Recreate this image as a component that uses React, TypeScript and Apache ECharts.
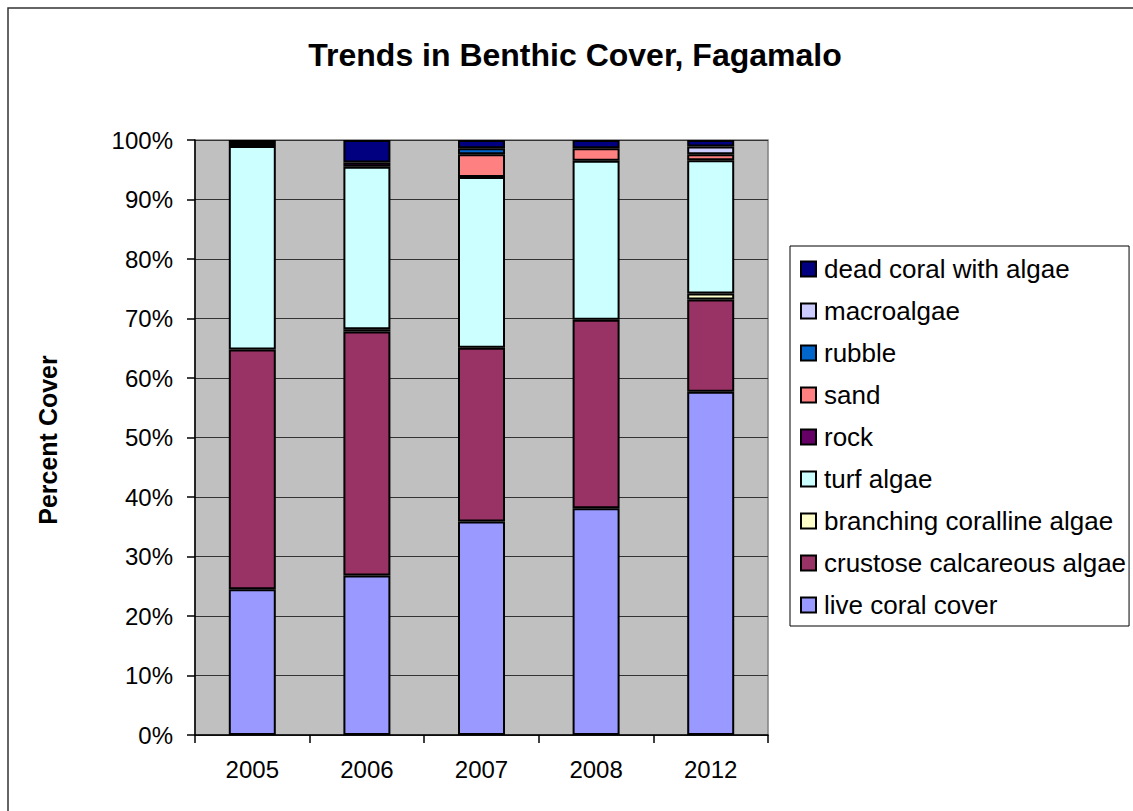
import React, { useEffect, useRef } from "react";
import * as echarts from "echarts";

const years = ["2005", "2006", "2007", "2008", "2012"];
const liveCoral = [24.5, 26.8, 35.9, 38.1, 57.7];
const crustose = [40.3, 41.0, 29.2, 31.7, 15.5];
const branching = [0, 0.4, 0, 0, 1.0];
const turf = [34.2, 27.3, 28.7, 26.7, 22.4];
const rock = [0.5, 0.7, 0, 0, 0];
const sand = [0, 0, 3.8, 2.1, 1.0];
const rubble = [0, 0, 1.0, 0, 0];
const macroalgae = [0, 0, 0, 0, 1.3];
const deadCoral = [0.5, 3.8, 1.4, 1.4, 1.1];

const seriesDefs = [
  { name: "live coral cover", data: liveCoral, color: "#9999FF" },
  { name: "crustose calcareous algae", data: crustose, color: "#993366" },
  { name: "branching coralline algae", data: branching, color: "#FFFFCC" },
  { name: "turf algae", data: turf, color: "#CCFFFF" },
  { name: "rock", data: rock, color: "#660066" },
  { name: "sand", data: sand, color: "#FF8080" },
  { name: "rubble", data: rubble, color: "#0066CC" },
  { name: "macroalgae", data: macroalgae, color: "#CCCCFF" },
  { name: "dead coral with algae", data: deadCoral, color: "#000080" },
];

const FONT = "'Liberation Sans', Arial, sans-serif";

export default function App() {
  const ref = useRef<HTMLDivElement>(null);
  useEffect(() => {
    const chart = echarts.init(ref.current!, null, { renderer: "svg" });
    chart.setOption({
      animation: false,
      backgroundColor: "#ffffff",
      textStyle: { fontFamily: FONT },
      grid: {
        left: 195,
        top: 140,
        right: 365,
        bottom: 76,
        show: true,
        backgroundColor: "#C0C0C0",
        borderColor: "#808080",
        borderWidth: 1.5,
      },
      xAxis: {
        type: "category",
        data: years,
        axisLine: { lineStyle: { color: "#000", width: 1.5 } },
        axisTick: { show: true, length: 8, interval: 0, lineStyle: { color: "#000", width: 1.5 } },
        axisLabel: { fontSize: 24, color: "#000", margin: 22, fontFamily: FONT },
      },
      yAxis: {
        type: "value",
        min: 0,
        max: 100,
        interval: 10,
        axisLine: { show: true, lineStyle: { color: "#000", width: 1.5 } },
        axisTick: { show: true, length: 8, lineStyle: { color: "#000", width: 1.5 } },
        axisLabel: { fontSize: 24, color: "#000", margin: 22, formatter: "{value}%", fontFamily: FONT },
        splitLine: { show: true, lineStyle: { color: "#333", width: 1.2 } },
      },
      legend: {
        orient: "vertical",
        left: 790,
        top: 246,
        padding: [10, 3, 8, 10],
        itemGap: 16,
        itemWidth: 15,
        itemHeight: 15,
        selectedMode: false,
        backgroundColor: "#fff",
        borderColor: "#000",
        borderWidth: 1,
        icon: "rect",
        textStyle: { fontSize: 26, color: "#000", lineHeight: 26, fontFamily: FONT, padding: [0, 0, 0, 3] },
        data: seriesDefs.map((s) => s.name).reverse(),
      },
      graphic: [
        {
          type: "rect",
          shape: { x: 8, y: 8, width: 1200, height: 900 },
          style: { fill: "none", stroke: "#333", lineWidth: 1.5 },
          silent: true,
          z: 100,
        },
        {
          type: "text",
          x: 575,
          y: 55,
          style: {
            text: "Trends in Benthic Cover, Fagamalo",
            fontSize: 32,
            fontWeight: "bold",
            fontFamily: FONT,
            fill: "#000",
            align: "center",
            verticalAlign: "middle",
          },
        },
        {
          type: "text",
          x: 48,
          y: 440,
          rotation: Math.PI / 2,
          style: {
            text: "Percent Cover",
            fontSize: 25,
            fontWeight: "bold",
            fontFamily: FONT,
            fill: "#000",
            align: "center",
            verticalAlign: "middle",
          },
        },
      ],
      series: seriesDefs.map((s) => ({
        name: s.name,
        type: "bar",
        stack: "total",
        barWidth: 47,
        data: s.data.map((v) => (v === 0 ? "-" : v)),
        itemStyle: { color: s.color, borderColor: "#000", borderWidth: 2 },
      })),
    });
    return () => chart.dispose();
  }, []);
  return (
    <div
      ref={ref}
      style={{ position: "absolute", left: 0, top: 0, width: 1133, height: 811 }}
    />
  );
}
